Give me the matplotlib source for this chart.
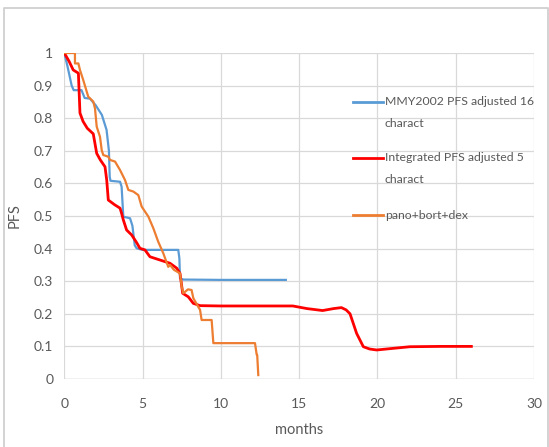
import matplotlib
matplotlib.use("Agg")
import matplotlib.pyplot as plt
from matplotlib.lines import Line2D

plt.rcParams['font.family'] = ['Lato', 'DejaVu Sans']

# MMY2002 PFS adjusted 16 charact
mmy_x = [0, 0.2, 0.47, 0.6, 1.1, 1.3, 1.64, 2.0, 2.4, 2.7, 2.85, 2.9, 2.95, 3.56, 3.66, 3.77, 4.2, 4.35, 4.5, 4.62, 5.0, 7.28, 7.35, 7.39, 7.6, 10.0, 14.15]
mmy_y = [1.0, 0.96, 0.9, 0.886, 0.886, 0.862, 0.86, 0.84, 0.81, 0.764, 0.7, 0.62, 0.608, 0.605, 0.59, 0.498, 0.493, 0.47, 0.41, 0.401, 0.396, 0.396, 0.37, 0.309, 0.305, 0.304, 0.304]

# Integrated PFS adjusted 5 charact
int_x = [0, 0.3, 0.57, 0.9, 1.0, 1.2, 1.47, 1.85, 2.07, 2.3, 2.6, 2.71, 2.81, 3.2, 3.56, 3.66, 3.77, 3.98, 4.3, 4.6, 4.83, 5.15, 5.47, 6.11, 6.75, 7.18, 7.39, 7.5, 7.56, 7.92, 8.24, 8.67, 10.0, 12.0, 14.6, 15.5, 16.5, 17.2, 17.7, 18.0, 18.25, 18.67, 19.1, 19.5, 19.95, 21.0, 22.08, 24.0, 26.0]
int_y = [1.0, 0.975, 0.948, 0.938, 0.816, 0.79, 0.769, 0.752, 0.692, 0.672, 0.651, 0.61, 0.549, 0.535, 0.524, 0.508, 0.488, 0.457, 0.442, 0.42, 0.401, 0.396, 0.375, 0.365, 0.355, 0.34, 0.324, 0.285, 0.263, 0.252, 0.232, 0.225, 0.224, 0.224, 0.224, 0.216, 0.21, 0.216, 0.219, 0.212, 0.2, 0.14, 0.099, 0.092, 0.089, 0.094, 0.099, 0.1, 0.1]

# pano+bort+dex
pbd_x = [0, 0.68, 0.68, 0.9, 1.0, 1.21, 1.53, 1.85, 1.96, 2.07, 2.28, 2.39, 2.49, 2.81, 2.92, 3.24, 3.56, 3.88, 4.09, 4.41, 4.73, 4.94, 5.37, 5.69, 6.0, 6.32, 6.64, 6.75, 7.0, 7.39, 7.5, 7.6, 7.9, 8.13, 8.24, 8.67, 8.77, 9.41, 9.52, 12.18, 12.29, 12.32, 12.39]
pbd_y = [1.0, 1.0, 0.968, 0.968, 0.948, 0.917, 0.866, 0.851, 0.83, 0.774, 0.743, 0.702, 0.687, 0.682, 0.672, 0.667, 0.641, 0.61, 0.58, 0.575, 0.564, 0.529, 0.498, 0.462, 0.421, 0.386, 0.344, 0.35, 0.335, 0.324, 0.283, 0.263, 0.275, 0.273, 0.248, 0.212, 0.181, 0.181, 0.11, 0.11, 0.074, 0.074, 0.012]

series_names = [["MMY2002 PFS adjusted 16", "charact"], ["Integrated PFS adjusted 5", "charact"], ["pano+bort+dex"]]
series_colors = ["#5b9bd5", "#ff0000", "#ed7d31"]

x_ticks = [0, 5, 10, 15, 20, 25, 30]
y_ticks = [0, 0.1, 0.2, 0.3, 0.4, 0.5, 0.6, 0.7, 0.8, 0.9, 1]
y_labels = ["0", "0.1", "0.2", "0.3", "0.4", "0.5", "0.6", "0.7", "0.8", "0.9", "1"]

W, H = 549, 447
fig = plt.figure(figsize=(W / 100, H / 100), dpi=100)
fig.patch.set_facecolor("white")
# outer frame (left, top, right)
fig.add_artist(Line2D([3.5 / W, 3.5 / W, 547.5 / W, 547.5 / W], [0, 1 - 7.5 / H, 1 - 7.5 / H, 0],
                      transform=fig.transFigure, color="#d0d0d0", linewidth=1.3))

ax = fig.add_axes([64.3 / W, 1 - 379 / H, 469.7 / W, 326 / H])
ax.set_xlim(0, 30)
ax.set_ylim(0, 1)
ax.set_xticks(x_ticks)
ax.set_yticks(y_ticks)
ax.set_yticklabels(y_labels)
ax.grid(True, color="#d9d9d9", linewidth=0.9)
ax.set_axisbelow(True)
for s in ax.spines.values():
    s.set_visible(False)
ax.axhline(0, color="#cfcfcf", linewidth=1.0, zorder=1)
ax.tick_params(length=0, labelsize=10, labelcolor="#595959")
ax.tick_params(axis='x', pad=14)
ax.tick_params(axis='y', pad=8)
ax.set_xlabel("months", fontsize=10.5, color="#595959", labelpad=9)
ax.set_ylabel("PFS", fontsize=10.5, color="#595959")
ax.yaxis.set_label_coords(-0.09, 0.5)

ax.plot(mmy_x, mmy_y, color=series_colors[0], linewidth=1.6, solid_joinstyle="round", zorder=3)
ax.plot(int_x, int_y, color=series_colors[1], linewidth=2.0, solid_joinstyle="round", zorder=4)
ax.plot(pbd_x, pbd_y, color=series_colors[2], linewidth=1.6, solid_joinstyle="round", zorder=5)

# legend (drawn manually, no frame)
leg_y = [0.850, 0.678, 0.503]
line_step = 21.6 / 326
for lines, col, yy in zip(series_names, series_colors, leg_y):
    ax.add_line(Line2D([0.615, 0.678], [yy, yy], transform=ax.transAxes, color=col,
                       linewidth=2.0, clip_on=False))
    for i, t in enumerate(lines):
        ax.text(0.682, yy - i * line_step, t, transform=ax.transAxes, fontsize=8.8,
                color="#595959", va="center", ha="left")

fig.savefig("out.png", dpi=100, facecolor="white")
